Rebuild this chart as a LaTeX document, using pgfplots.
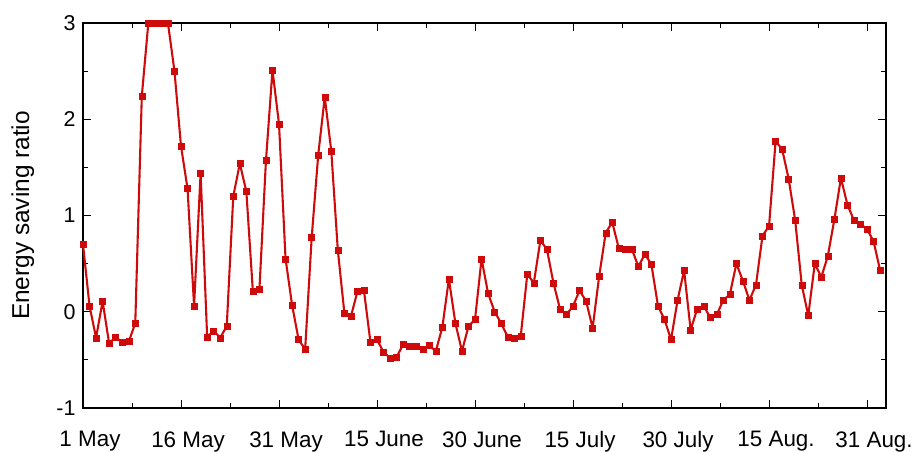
\documentclass[border=0pt]{standalone}
\usepackage{fontspec}
\setmainfont{Liberation Sans}
\usepackage{pgfplots}
\pgfplotsset{compat=1.18}
\usepackage{pgfplotstable}
\definecolor{esred}{RGB}{206,10,10}

% daily energy saving ratio, day 0 = 1 May
\pgfplotstableread{
day ratio
0 0.70
1 0.06
2 -0.27
3 0.11
4 -0.33
5 -0.26
6 -0.32
7 -0.31
8 -0.12
9 2.24
10 3
11 3
12 3
13 3
14 2.50
15 1.72
16 1.28
17 0.06
18 1.44
19 -0.26
20 -0.20
21 -0.27
22 -0.15
23 1.20
24 1.54
25 1.25
26 0.21
27 0.23
28 1.57
29 2.51
30 1.95
31 0.55
32 0.07
33 -0.29
34 -0.39
35 0.77
36 1.63
37 2.23
38 1.67
39 0.64
40 -0.01
41 -0.05
42 0.21
43 0.22
44 -0.32
45 -0.29
46 -0.42
47 -0.48
48 -0.47
49 -0.34
50 -0.36
51 -0.36
52 -0.39
53 -0.35
54 -0.41
55 -0.16
56 0.34
57 -0.12
58 -0.41
59 -0.15
60 -0.08
61 0.55
62 0.19
63 0.00
64 -0.12
65 -0.26
66 -0.27
67 -0.25
68 0.39
69 0.30
70 0.74
71 0.65
72 0.30
73 0.03
74 -0.03
75 0.06
76 0.22
77 0.11
78 -0.17
79 0.37
80 0.82
81 0.93
82 0.66
83 0.65
84 0.65
85 0.47
86 0.60
87 0.49
88 0.06
89 -0.08
90 -0.29
91 0.12
92 0.43
93 -0.19
94 0.03
95 0.06
96 -0.06
97 -0.03
98 0.12
99 0.18
100 0.50
101 0.32
102 0.12
103 0.28
104 0.79
105 0.89
106 1.77
107 1.69
108 1.38
109 0.95
110 0.28
111 -0.04
112 0.50
113 0.36
114 0.58
115 0.96
116 1.39
117 1.11
118 0.95
119 0.91
120 0.86
121 0.73
122 0.43
}\esdata

\begin{document}
\begin{tikzpicture}
\begin{axis}[
	name=ax,
	scale only axis,
	width=803bp,
	height=385bp,
	xmin=0, xmax=122.9,
	ymin=-1, ymax=3,
	xtick={0,15,...,120},
	xticklabels={1 May,16 May,31 May,15 June,30 June,15 July,30 July,15 Aug.,31 Aug.},
	minor x tick num=1,
	ytick={-1,0,1,2,3},
	minor y tick num=1,
	tick align=inside,
	major tick length=8bp,
	minor tick length=5bp,
	every tick/.style={black, line width=1pt},
	axis line style={black, line width=1.3pt},
	tick label style={font=\fontsize{21.5}{24}\selectfont},
	/pgf/number format/assume math mode=true,
	xticklabel style={font=\fontsize{22.5}{26}\selectfont, xshift=7bp, yshift=-20bp},
	yticklabel style={xshift=-4bp},
	ylabel={Energy saving ratio},
	every axis y label/.style={at={(axis description cs:-0.075,0.5)}, rotate=90, anchor=center,
		font=\fontsize{24.5}{28}\selectfont},
	clip=false,
]
\addplot[esred, line width=2.1pt, line join=round, mark=square*, mark size=3bp,
	mark options={solid, fill=esred, draw=esred, line width=0.4pt, line join=miter}]
	table[x=day, y=ratio] {\esdata};
\end{axis}
\pgfresetboundingbox
\path ([xshift=-83bp, yshift=-44bp]ax.south west) rectangle ([xshift=35bp, yshift=23bp]ax.north east);
\end{tikzpicture}
\end{document}
